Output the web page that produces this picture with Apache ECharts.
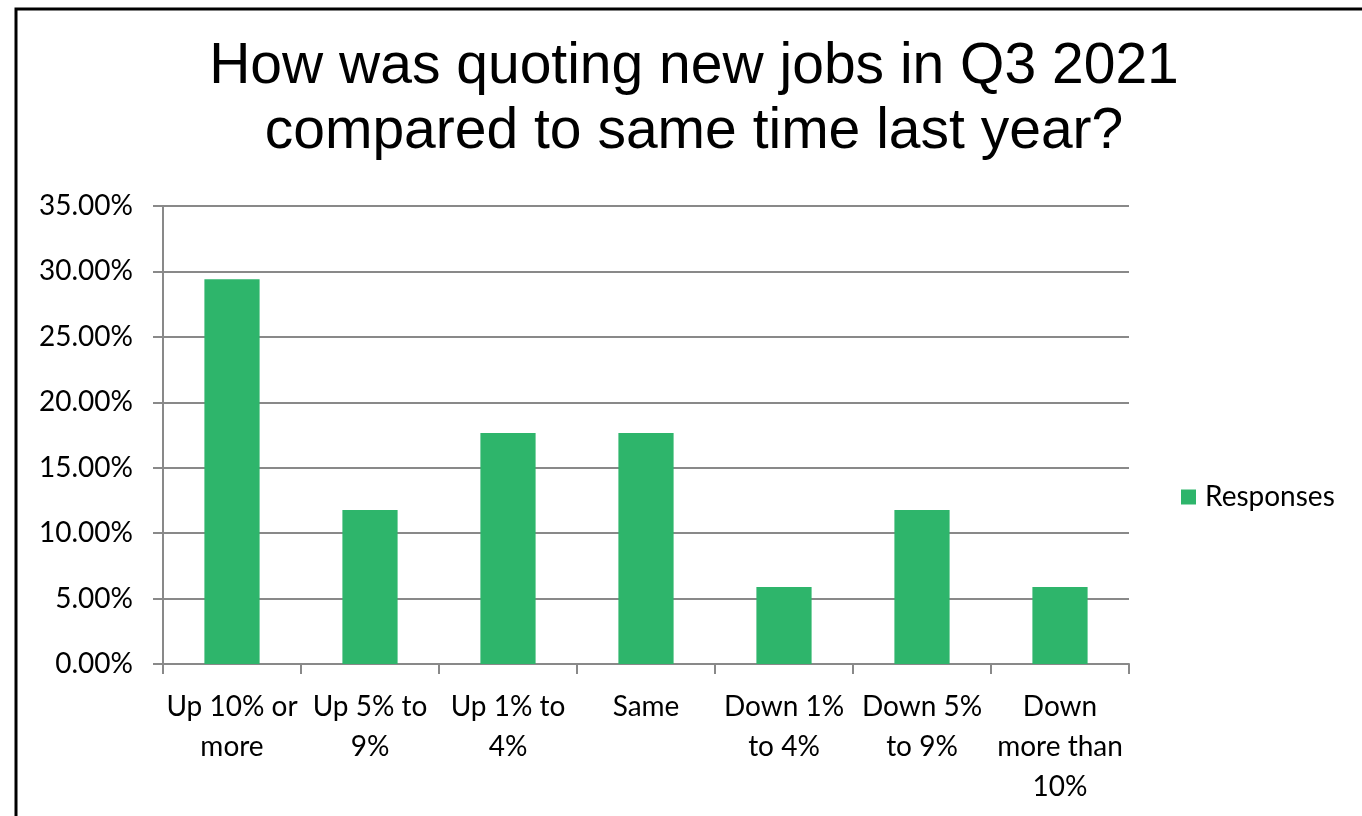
<!DOCTYPE html>
<html>
<head>
<meta charset="utf-8">
<script src="https://cdn.jsdelivr.net/npm/echarts@6/dist/echarts.min.js"></script>
<style>
  html, body { margin: 0; padding: 0; background: #ffffff; }
  #chart { width: 1362px; height: 816px; }
</style>
</head>
<body>
<div id="chart"></div>
<script>
// Survey answers, in percent of responses
const categories = [
  'Up 10% or\nmore',
  'Up 5% to\n9%',
  'Up 1% to\n4%',
  'Same',
  'Down 1%\nto 4%',
  'Down 5%\nto 9%',
  'Down\nmore than\n10%'
];
const responses = [29.41, 11.76, 17.65, 17.65, 5.88, 11.76, 5.88];
const seriesName = 'Responses';
const titleText = 'How was quoting new jobs in Q3 2021\ncompared to same time last year?';

const chart = echarts.init(document.getElementById('chart'), null, { renderer: 'canvas' });
const axisGray = '#898989';
const labelFont = 'Lato, "Open Sans", sans-serif';

chart.setOption({
  backgroundColor: '#ffffff',
  animation: false,
  graphic: [{
    type: 'rect',
    shape: { x: 16, y: 9, width: 1500, height: 1000 },
    style: { fill: 'none', stroke: '#000000', lineWidth: 3 },
    z: 100
  }],
  title: {
    text: titleText,
    left: 689,
    top: 30,
    textAlign: 'center',
    textStyle: {
      fontFamily: '"Liberation Sans", Arial, sans-serif',
      fontSize: 57,
      fontWeight: 'normal',
      color: '#000000',
      lineHeight: 65
    }
  },
  legend: {
    data: [seriesName],
    left: 1181,
    top: 483,
    padding: 0,
    orient: 'vertical',
    icon: 'rect',
    itemWidth: 15,
    itemHeight: 15,
    itemGap: 8,
    textStyle: { fontFamily: labelFont, fontSize: 28, color: '#000000', padding: [0, 0, 0, 4] }
  },
  grid: { left: 163, right: 233, top: 206, bottom: 152, containLabel: false },
  xAxis: {
    type: 'category',
    data: categories,
    boundaryGap: true,
    axisLine: { lineStyle: { color: axisGray, width: 2 } },
    axisTick: { show: true, length: 10, alignWithLabel: false, lineStyle: { color: axisGray, width: 2 } },
    axisLabel: {
      interval: 0,
      margin: 23,
      fontFamily: labelFont,
      fontSize: 28,
      lineHeight: 40,
      color: '#000000'
    }
  },
  yAxis: {
    type: 'value',
    min: 0,
    max: 35,
    interval: 5,
    axisLine: { show: true, lineStyle: { color: axisGray, width: 2 } },
    axisTick: { show: true, length: 10, lineStyle: { color: axisGray, width: 2 } },
    splitLine: { show: true, lineStyle: { color: axisGray, width: 2 } },
    axisLabel: {
      margin: 30,
      fontFamily: labelFont,
      fontSize: 28,
      color: '#000000',
      formatter: v => v.toFixed(2) + '%'
    }
  },
  series: [{
    name: seriesName,
    type: 'bar',
    data: responses,
    barWidth: '40%',
    itemStyle: { color: '#2eb56b' }
  }]
});
</script>
</body>
</html>
